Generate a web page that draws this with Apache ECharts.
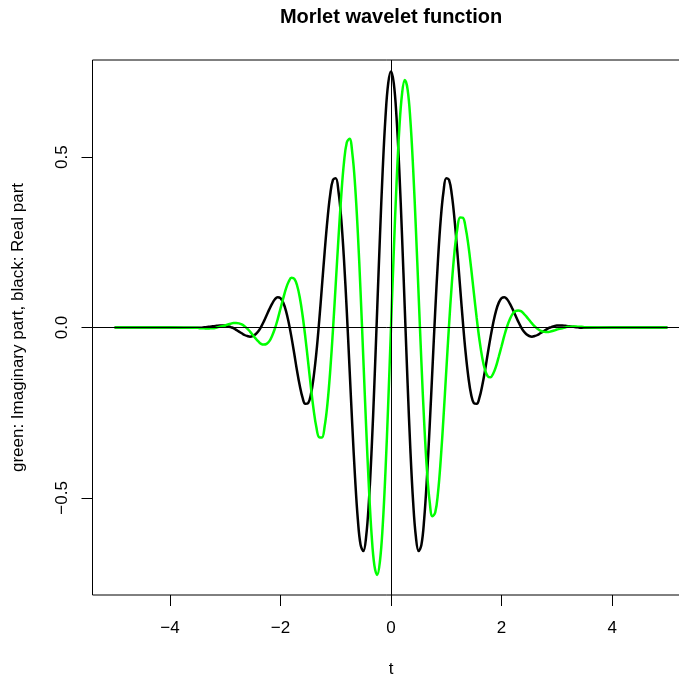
<!DOCTYPE html>
<html>
<head>
<meta charset="utf-8">
<title>Morlet wavelet function</title>
<script src="https://cdn.jsdelivr.net/npm/echarts@6/dist/echarts.min.js"></script>
<style>
  html, body { margin: 0; padding: 0; background: #fff; overflow: hidden; }
  #chart { width: 679px; height: 680px; }
</style>
</head>
<body>
<div id="chart"></div>
<script>
// Sample positions along t
const tValues = [
  -5, -4.5, -4,
  -3.5, -3.45, -3.4, -3.35, -3.3, -3.25, -3.2, -3.15, -3.1, -3.05,
  -3.0, -2.95, -2.9, -2.85, -2.8, -2.75, -2.7, -2.65, -2.6, -2.55,
  -2.5, -2.45, -2.4, -2.35, -2.3, -2.25, -2.2, -2.15, -2.1, -2.05,
  -2.0, -1.95, -1.9, -1.85, -1.8, -1.75, -1.7, -1.65, -1.6, -1.55,
  -1.5, -1.45, -1.4, -1.35, -1.3, -1.25, -1.2, -1.15, -1.1, -1.05,
  -1.0, -0.95, -0.9, -0.85, -0.8, -0.75, -0.7, -0.65, -0.6, -0.55,
  -0.5, -0.45, -0.4, -0.35, -0.3, -0.25, -0.2, -0.15, -0.1, -0.05,
  0,
  0.05, 0.1, 0.15, 0.2, 0.25, 0.3, 0.35, 0.4, 0.45, 0.5,
  0.55, 0.6, 0.65, 0.7, 0.75, 0.8, 0.85, 0.9, 0.95, 1.0,
  1.05, 1.1, 1.15, 1.2, 1.25, 1.3, 1.35, 1.4, 1.45, 1.5,
  1.55, 1.6, 1.65, 1.7, 1.75, 1.8, 1.85, 1.9, 1.95, 2.0,
  2.05, 2.1, 2.15, 2.2, 2.25, 2.3, 2.35, 2.4, 2.45, 2.5,
  2.55, 2.6, 2.65, 2.7, 2.75, 2.8, 2.85, 2.9, 2.95, 3.0,
  3.05, 3.1, 3.15, 3.2, 3.25, 3.3, 3.35, 3.4, 3.45, 3.5,
  4, 4.5, 5
];

// Real part (black curve)
const realPart = [
  0, 0, 0,
  -0.001, -0.001, 0.000, 0.001, 0.002, 0.003, 0.004, 0.005, 0.006, 0.006,
  0.006, 0.004, 0.001, -0.002, -0.007, -0.012, -0.017, -0.022, -0.025, -0.027,
  -0.025, -0.020, -0.011, 0.002, 0.018, 0.036, 0.054, 0.070, 0.083, 0.089,
  0.086, 0.073, 0.049, 0.014, -0.029, -0.077, -0.127, -0.171, -0.206, -0.224,
  -0.222, -0.197, -0.146, -0.074, 0.017, 0.119, 0.222, 0.316, 0.390, 0.433,
  0.438, 0.399, 0.318, 0.198, 0.048, -0.120, -0.288, -0.441, -0.563, -0.638,
  -0.656, -0.614, -0.511, -0.357, -0.163, 0.052, 0.267, 0.462, 0.617, 0.717,
  0.751,
  0.717, 0.617, 0.462, 0.267, 0.052, -0.163, -0.357, -0.511, -0.614, -0.656,
  -0.638, -0.563, -0.441, -0.288, -0.120, 0.048, 0.198, 0.318, 0.399, 0.438,
  0.433, 0.390, 0.316, 0.222, 0.119, 0.017, -0.074, -0.146, -0.197, -0.222,
  -0.224, -0.206, -0.171, -0.127, -0.077, -0.029, 0.014, 0.049, 0.073, 0.086,
  0.089, 0.083, 0.070, 0.054, 0.036, 0.018, 0.002, -0.011, -0.020, -0.025,
  -0.027, -0.025, -0.022, -0.017, -0.012, -0.007, -0.002, 0.001, 0.004, 0.006,
  0.006, 0.006, 0.005, 0.004, 0.003, 0.002, 0.001, 0.000, -0.001, -0.001,
  0, 0, 0
];

// Imaginary part (green curve)
const imagPart = [
  0, 0, 0,
  -0.001, -0.002, -0.002, -0.003, -0.003, -0.002, -0.002, 0.000, 0.002, 0.004,
  0.006, 0.009, 0.011, 0.013, 0.013, 0.012, 0.009, 0.004, -0.003, -0.012,
  -0.022, -0.032, -0.041, -0.048, -0.050, -0.048, -0.040, -0.024, -0.003, 0.024,
  0.055, 0.085, 0.114, 0.135, 0.146, 0.143, 0.124, 0.088, 0.036, -0.028,
  -0.100, -0.174, -0.241, -0.293, -0.322, -0.323, -0.290, -0.224, -0.128, -0.007,
  0.127, 0.263, 0.387, 0.485, 0.543, 0.554, 0.512, 0.418, 0.278, 0.102,
  -0.094, -0.290, -0.468, -0.610, -0.699, -0.726, -0.686, -0.582, -0.422, -0.222,
  0.000,
  0.222, 0.422, 0.582, 0.686, 0.726, 0.699, 0.610, 0.468, 0.290, 0.094,
  -0.102, -0.278, -0.418, -0.512, -0.554, -0.543, -0.485, -0.387, -0.263, -0.127,
  0.007, 0.128, 0.224, 0.290, 0.323, 0.322, 0.293, 0.241, 0.174, 0.100,
  0.028, -0.036, -0.088, -0.124, -0.143, -0.146, -0.135, -0.114, -0.085, -0.055,
  -0.024, 0.003, 0.024, 0.040, 0.048, 0.050, 0.048, 0.041, 0.032, 0.022,
  0.012, 0.003, -0.004, -0.009, -0.012, -0.013, -0.013, -0.011, -0.009, -0.006,
  -0.004, -0.002, 0.000, 0.002, 0.002, 0.003, 0.003, 0.002, 0.002, 0.001,
  0, 0, 0
];

// Axis tick positions
const xTicks = [-4, -2, 0, 2, 4];
const yTicks = [-0.5, 0, 0.5];

const FONT = '"Liberation Sans", Arial, Helvetica, sans-serif';
const minus = '\u2212';

const realSeries = tValues.map((t, i) => [t, realPart[i]]);
const imagSeries = tValues.map((t, i) => [t, imagPart[i]]);

const chart = echarts.init(document.getElementById('chart'), null, { renderer: 'canvas' });

chart.setOption({
  animation: false,
  backgroundColor: '#ffffff',
  title: {
    text: 'Morlet wavelet function',
    left: 391,
    top: 7,
    padding: 0,
    textAlign: 'center',
    textStyle: { fontFamily: FONT, fontSize: 20, fontWeight: 'bold', color: '#000' }
  },
  grid: {
    left: 92.5,
    top: 60,
    width: 597,
    height: 535,
    show: true,
    borderColor: '#000',
    borderWidth: 1,
    backgroundColor: 'transparent',
    containLabel: false,
    outerBoundsMode: 'none'
  },
  xAxis: {
    type: 'value',
    min: -5.4,
    max: 5.4,
    name: 't',
    nameLocation: 'middle',
    nameGap: 66,
    nameTextStyle: { fontFamily: FONT, fontSize: 17, color: '#000' },
    axisLine: { show: false, onZero: false },
    splitLine: { show: false },
    axisTick: {
      show: true, inside: false, length: 11,
      customValues: xTicks,
      lineStyle: { color: '#000', width: 1 }
    },
    axisLabel: {
      show: true, margin: 25,
      customValues: xTicks,
      fontFamily: FONT, fontSize: 17, color: '#000',
      formatter: v => (v < 0 ? minus : '') + Math.abs(v)
    }
  },
  yAxis: {
    type: 'value',
    min: -0.785,
    max: 0.785,
    name: 'green: Imaginary part, black: Real part',
    nameLocation: 'middle',
    nameRotate: 90,
    nameGap: 66,
    nameTextStyle: { fontFamily: FONT, fontSize: 17, color: '#000' },
    axisLine: { show: false, onZero: false },
    splitLine: { show: false },
    axisTick: {
      show: true, inside: false, length: 11,
      customValues: yTicks,
      lineStyle: { color: '#000', width: 1 }
    },
    axisLabel: {
      show: true, margin: 22, rotate: 90,
      customValues: yTicks,
      fontFamily: FONT, fontSize: 17, color: '#000',
      formatter: v => (v < 0 ? minus : '') + Math.abs(v).toFixed(1)
    }
  },
  series: [
    {
      name: 'Real part',
      type: 'line',
      data: realSeries,
      showSymbol: false,
      symbol: 'none',
      smooth: 0.4,
      lineStyle: { color: '#000000', width: 2.5 },
      z: 2
    },
    {
      name: 'Imaginary part',
      type: 'line',
      data: imagSeries,
      showSymbol: false,
      symbol: 'none',
      smooth: 0.4,
      lineStyle: { color: '#00ff00', width: 2.5 },
      z: 3,
      markLine: {
        silent: true,
        symbol: 'none',
        label: { show: false },
        lineStyle: { color: '#000', width: 1, type: 'solid' },
        data: [{ yAxis: 0 }, { xAxis: 0 }]
      }
    }
  ]
});
</script>
</body>
</html>
